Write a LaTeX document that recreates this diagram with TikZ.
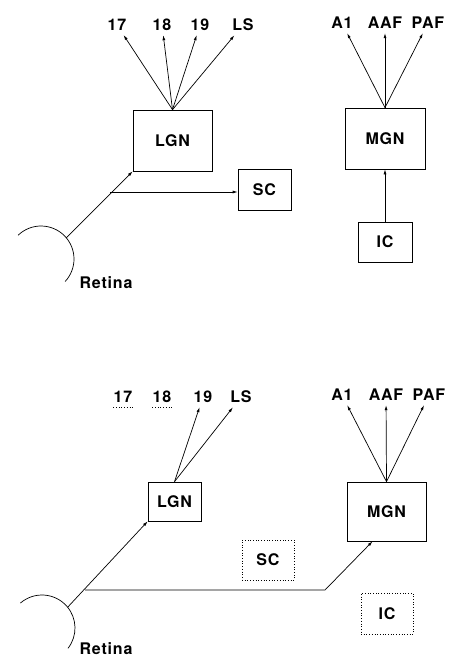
\documentclass[tikz,border=0pt]{standalone}
\usepackage{fontspec}
\setmainfont[LetterSpace=5]{TeX Gyre Heros}
\usepackage{tikz}
\usetikzlibrary{arrows.meta}
\newcommand{\labfont}{\fontsize{16}{16}\selectfont\bfseries}

\begin{document}
\begin{tikzpicture}[x=1pt,y=-1pt, >={Latex[length=5pt,width=3pt]}, line width=0.7pt]
\tikzstyle{area}=[draw, inner sep=0pt, font=\labfont]
\tikzstyle{lab}=[font=\labfont, inner sep=4pt]
\useasboundingbox (0,0) rectangle (451,659);

% top: normal
\node[area, minimum width=79pt, minimum height=61pt] (lgn1) at (172.5,140.5) {LGN};
\node[area, minimum width=53pt, minimum height=41pt] (sc1) at (264.5,189.5) {SC};
\node[area, minimum width=80pt, minimum height=61pt] (mgn1) at (385,138.5) {MGN};
\node[area, minimum width=54pt, minimum height=40pt] (ic1) at (385,242) {IC};

\node[lab] (a17) at (117,25) {17};
\node[lab] (a18) at (162,25) {18};
\node[lab] (a19) at (200,25) {19};
\node[lab] (als) at (243,25) {LS};
\node[lab] (aa1) at (342,23) {A1};
\node[lab] (aaaf) at (385,23) {AAF};
\node[lab] (apaf) at (428,23) {PAF};
\node[lab] (ret1) at (106,283) {Retina};

\draw (41,259) ++(226:33) arc (226:403:33);
\path (41,259) ++(320:33) coordinate (eye1);
\coordinate (br1) at (110,192);

\path[->]
(lgn1.north) edge (a17)
    edge (a18)
    edge (a19)
    edge (als)
(mgn1.north) edge (aa1)
    edge (aaaf)
    edge (apaf)
(eye1) edge (lgn1.south west)
(br1) edge (br1 -| sc1.west)
(ic1) edge (mgn1);

% bottom: after lesion
\node[area, minimum width=53pt, minimum height=39pt] (lgn2) at (174.5,501.5) {LGN};
\node[area, dotted, minimum width=52pt, minimum height=40pt] (sc2) at (268,560) {SC};
\node[area, minimum width=79pt, minimum height=59pt] (mgn2) at (386.5,511.5) {MGN};
\node[area, dotted, minimum width=52pt, minimum height=41pt] (ic2) at (387,613.5) {IC};

\node[lab] (b17) at (123,397) {17};
\node[lab] (b18) at (162,397) {18};
\node[lab] (b19) at (203,397) {19};
\node[lab] (bls) at (241,397) {LS};
\node[lab] (ba1) at (342,395) {A1};
\node[lab] (baaf) at (386,395) {AAF};
\node[lab] (bpaf) at (429,395) {PAF};
\node[lab] (ret2) at (106,649) {Retina};

\draw[dotted] ([xshift=4pt]b17.south west) -- ([xshift=-4pt]b17.south east);
\draw[dotted] ([xshift=4pt]b18.south west) -- ([xshift=-4pt]b18.south east);

\draw (42,628) ++(229:33) arc (229:398:33);
\path (42,628) ++(321:33) coordinate (eye2);
\coordinate (br2) at (85,590);
\coordinate (bend2) at (325,590);
\coordinate (m2in) at ([xshift=-14pt]mgn2.south);

\path[->]
(lgn2.north) edge (b19)
    edge (bls)
(mgn2.north) edge (ba1)
    edge (baaf)
    edge (bpaf)
(eye2) edge (lgn2.south west);
\draw[->] (br2) -- (bend2) -- (m2in);

\end{tikzpicture}
\end{document}
